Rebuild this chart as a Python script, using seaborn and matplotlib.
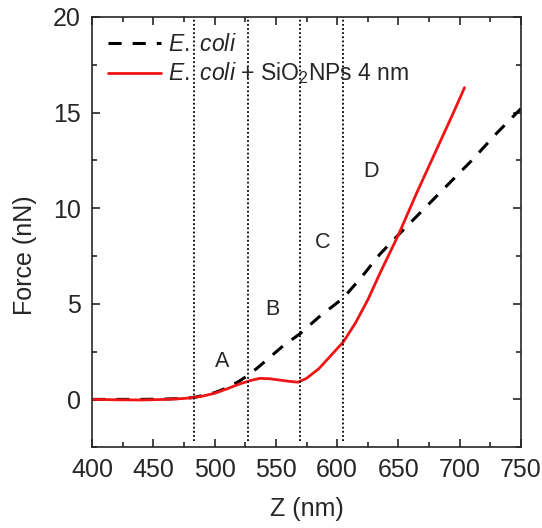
import numpy as np
import pandas as pd
import seaborn as sns
import matplotlib
matplotlib.use("Agg")
import matplotlib.pyplot as plt

# E. coli (dashed black)
z_ecoli = [400, 420, 440, 460, 475, 483, 490, 500, 510, 520, 527, 535, 545, 555, 570,
           585, 605, 620, 635, 650, 670, 690, 710, 730, 750]
f_ecoli = [0.0, 0.0, 0.0, 0.02, 0.05, 0.1, 0.2, 0.35, 0.6, 0.95, 1.25, 1.65, 2.2, 2.75, 3.45,
           4.3, 5.3, 6.4, 7.6, 8.6, 9.9, 11.2, 12.5, 13.9, 15.2]

# E. coli + SiO2 NPs 4 nm (red)
z_np = [400, 420, 440, 460, 475, 483, 490, 500, 510, 520, 530, 537, 545, 552, 560, 568,
        575, 585, 595, 605, 615, 625, 635, 650, 665, 680, 695, 704]
f_np = [0.0, -0.02, -0.03, 0.0, 0.05, 0.1, 0.17, 0.32, 0.55, 0.8, 1.0, 1.1, 1.08, 1.02, 0.95, 0.9,
        1.1, 1.6, 2.3, 3.0, 4.0, 5.2, 6.6, 8.6, 10.8, 12.9, 15.0, 16.3]

# region boundaries and labels
z_bounds = [483, 527, 570, 605]
region_labels = ["A", "B", "C", "D"]
label_z = [506, 547, 588, 628]
label_f = [2.0, 4.7, 8.2, 11.9]

df_ecoli = pd.DataFrame({"Z": z_ecoli, "F": f_ecoli})
df_np = pd.DataFrame({"Z": z_np, "F": f_np})

sns.set_style("ticks")
plt.rcParams["font.family"] = ["Liberation Sans", "DejaVu Sans"]
plt.rcParams["mathtext.fontset"] = "custom"
plt.rcParams["mathtext.rm"] = "Liberation Sans"
plt.rcParams["mathtext.it"] = "Liberation Sans:italic"

fig = plt.figure(figsize=(5.42, 5.28), dpi=100)
ax = fig.add_axes([0.170, 0.153, 0.791, 0.815])

sns.lineplot(data=df_ecoli, x="Z", y="F", ax=ax, color="black", lw=2.2,
             linestyle=(0, (4.3, 3.6)), label=r"$\it{E.\ coli}$")
sns.lineplot(data=df_np, x="Z", y="F", ax=ax, color="#f01414", lw=2,
             label=r"$\it{E.\ coli}$ + SiO$_2$NPs 4 nm")

ax.vlines(z_bounds, -2.2, 20, colors="black", linestyles=(0, (1, 1.3)), lw=1.3)

for lab, zx, fy in zip(region_labels, label_z, label_f):
    ax.text(zx, fy, lab, fontsize=15.5, ha="center", va="center")

ax.set_xlim(400, 750)
ax.set_ylim(-2.5, 20)
ax.set_xticks(np.arange(400, 751, 50))
ax.set_xticks(np.arange(425, 750, 50), minor=True)
ax.set_yticks(np.arange(0, 21, 5))
ax.set_yticks(np.arange(-2.5, 20, 5), minor=True)
ax.tick_params(which="both", direction="in", top=True, right=True, labelsize=18,
               width=1.2, pad=8)
ax.tick_params(which="major", length=6)
ax.tick_params(which="minor", length=3.5)
for s in ax.spines.values():
    s.set_linewidth(1.2)

ax.set_xlabel("Z (nm)", fontsize=18)
ax.set_ylabel("Force (nN)", fontsize=18)
ax.xaxis.set_label_coords(0.5, -0.116)
ax.yaxis.set_label_coords(-0.128, 0.447)

ax.legend(loc="upper left", bbox_to_anchor=(0, 1.0), frameon=False, fontsize=16.5,
          handlelength=2.3, borderaxespad=0.3, labelspacing=0.2, handletextpad=0.3)

fig.savefig("out.png", dpi=100)
